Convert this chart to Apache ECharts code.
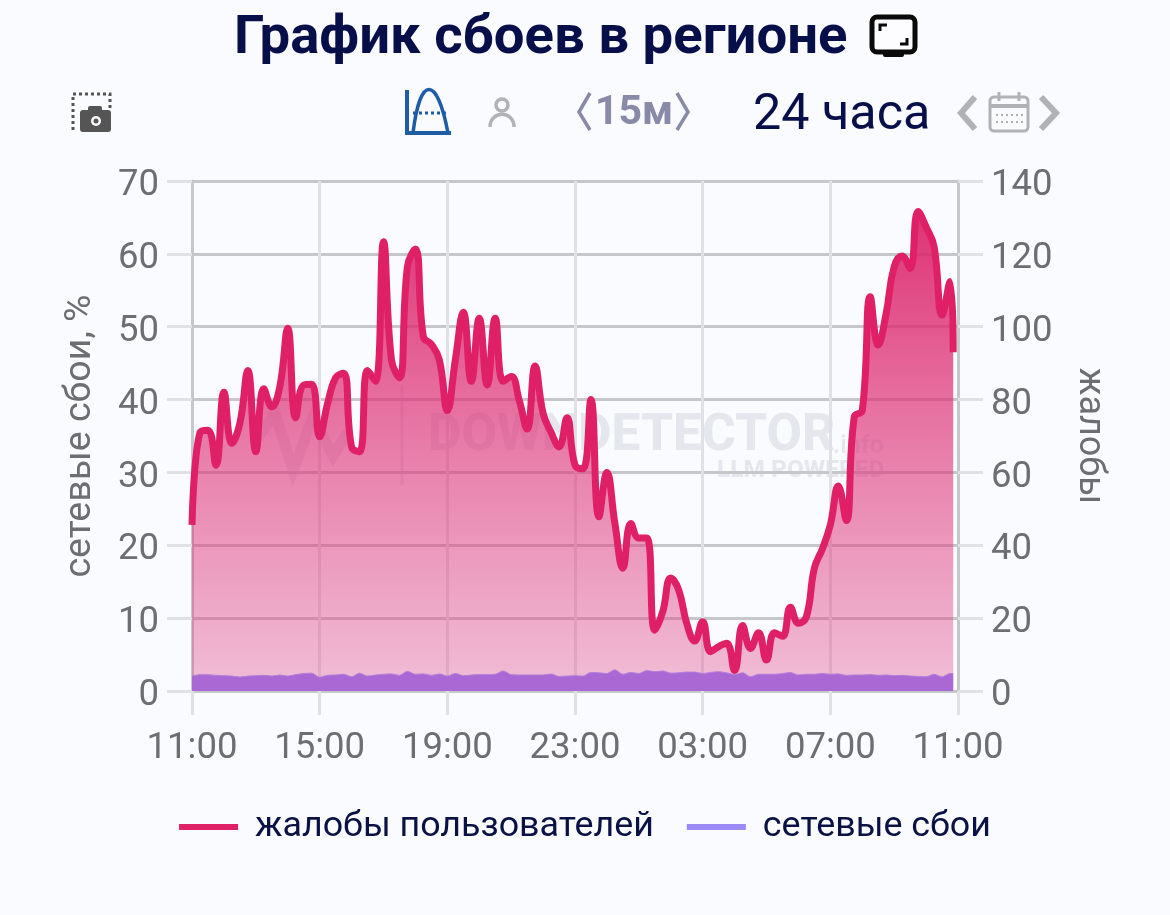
<!DOCTYPE html>
<html><head><meta charset="utf-8">
<style>html,body{margin:0;padding:0;background:#f9fbfe}#c{width:1170px;height:915px}</style>
<script src="https://cdn.jsdelivr.net/npm/echarts@6/dist/echarts.min.js"></script>
</head><body><div id="c"></div>
<script>
const titleText = 'График сбоев в регионе';
const seriesNames = ['жалобы пользователей', 'сетевые сбои'];
const leftAxisName = 'сетевые сбои, %';
const rightAxisName = 'жалобы';
const timeTickLabels = ['11:00','15:00','19:00','23:00','03:00','07:00','11:00'];
// minutes since 11:00 (15-minute samples, last one partial)
const minutes = [0,15,30,45,60,75,90,105,120,135,150,165,180,195,210,225,240,255,270,285,300,315,330,345,360,375,390,405,420,435,450,465,480,495,510,525,540,555,570,585,600,615,630,645,660,675,690,705,720,735,750,765,780,795,810,825,840,855,870,885,900,915,930,945,960,975,990,1005,1020,1035,1050,1065,1080,1095,1110,1125,1140,1155,1170,1185,1200,1215,1230,1245,1260,1275,1290,1305,1320,1335,1350,1365,1380,1395,1410,1425,1431];
const complaints = [45.6,71,71.6,62,82,68,73.5,88,65.7,83,78,83.5,99.6,75,84,84.2,69.8,79,86,87.2,67,65.7,88,85,123.3,90.9,86,116.5,121.3,97.2,95.2,90.9,77,90.9,104,85,102.3,84,102.3,85,86.3,79.9,71.9,89.2,76.2,71,67,75,62,61,80,47.8,60,46,33.7,46,42,42,16.7,21.8,31,27.7,18.6,13.7,19,10.8,12.2,13.1,5.6,18,11.7,16,8.5,16,15,23,18.6,20.4,33.7,39,45.6,56.3,46.8,75.3,77,108.2,95,103.7,116.5,119.4,116,131.6,127.4,122,103.2,112.4,93];
const outages = [2.06,2.24,2.24,2.15,2.1,2.05,1.92,2.05,2.1,2.15,2.05,2.2,2.05,2.25,2.4,2.45,1.9,2.15,2.2,2.3,1.95,2.45,2.05,2.2,2.3,2.35,2.15,2.7,2.3,2.35,2.15,2.35,2.05,2.4,2.1,2.2,2.25,2.25,2.3,2.75,2.25,2.2,2.2,2.2,2.2,2.35,2.0,2.05,2.1,2.05,2.55,2.5,2.4,2.9,2.3,2.55,2.4,2.8,2.65,2.75,2.45,2.5,2.6,2.6,2.4,2.55,2.65,2.5,2.25,2.5,1.95,2.3,2.3,2.3,2.4,2.55,2.2,2.3,2.3,2.4,2.3,2.35,2.15,2.2,2.2,2.25,2.15,2.2,2.1,2.15,2.05,2.0,1.95,2.3,1.95,2.4,2.4];

const toPairs = (ys) => ys.map((y, i) => [minutes[i], y]);
const GREY = '#6c6e70', NAVY = '#070f4a', FONT = 'Roboto, "Liberation Sans", sans-serif';
const MARK = 'rgba(50,60,100,0.1)';
const ICON = '#b0b2b6';

const chart = echarts.init(document.getElementById('c'), null, {renderer:'canvas'});
chart.setOption({
  animation:false,
  backgroundColor:'#f9fbfe',
  textStyle:{fontFamily:FONT},
  title:{text:titleText,left:229,top:7,textStyle:{fontFamily:FONT,fontSize:54.5,fontWeight:700,color:NAVY}},
  grid:{left:192,right:212,top:181,bottom:224},
  legend:{
    bottom:65,left:'center',itemWidth:59,itemHeight:6,itemGap:33,icon:'rect',
    data:seriesNames,
    textStyle:{fontFamily:FONT,fontSize:35.8,color:'#0a1245',padding:[0,0,0,12]}
  },
  xAxis:{
    type:'value',min:0,max:1440,interval:240,
    axisLine:{show:true,lineStyle:{color:'#c5c7cb',width:3}},
    axisTick:{show:true,length:24,lineStyle:{color:'#dfe1e6',width:3}},
    axisLabel:{fontSize:36.5,color:GREY,margin:39,hideOverlap:false,showMinLabel:true,showMaxLabel:true,
      formatter:(v)=>timeTickLabels[Math.round(v/240)]},
    splitLine:{show:true,lineStyle:{color:'#dfe1e6',width:3}}
  },
  yAxis:[{
    type:'value',min:0,max:70,interval:10,position:'left',
    name:leftAxisName,nameLocation:'middle',nameGap:92,nameRotate:90,
    nameTextStyle:{fontFamily:FONT,fontSize:37.5,color:GREY},
    axisLine:{show:true,lineStyle:{color:'#c5c7cb',width:3}},
    axisTick:{show:true,length:25,lineStyle:{color:'#dfe1e6',width:3}},
    axisLabel:{fontSize:36.5,color:GREY,margin:33,verticalAlign:'top',lineHeight:10},
    splitLine:{show:true,lineStyle:{color:'#c5c7cb',width:3}}
  },{
    type:'value',min:0,max:140,interval:20,position:'right',
    name:rightAxisName,nameLocation:'middle',nameGap:113,nameRotate:-90,
    nameTextStyle:{fontFamily:FONT,fontSize:36,color:GREY},
    axisLine:{show:true,lineStyle:{color:'#c5c7cb',width:3}},
    axisTick:{show:true,length:25,lineStyle:{color:'#dfe1e6',width:3}},
    axisLabel:{fontSize:36.5,color:GREY,margin:33,verticalAlign:'top',lineHeight:10},
    splitLine:{show:false}
  }],
  series:[{
    name:seriesNames[0],type:'line',yAxisIndex:1,smooth:0.45,showSymbol:false,z:3,
    data:toPairs(complaints),
    itemStyle:{color:'#df2066'},
    lineStyle:{color:'#df2066',width:7,cap:'butt',join:'round'},
    areaStyle:{opacity:1,color:new echarts.graphic.LinearGradient(0,0,0,1,[
      {offset:0,color:'rgba(219,28,100,0.9)'},
      {offset:1,color:'rgba(225,70,135,0.34)'}])}
  },{
    name:seriesNames[1],type:'line',yAxisIndex:0,smooth:0.3,showSymbol:false,z:4,
    data:toPairs(outages),
    itemStyle:{color:'#9d8bf5'},
    lineStyle:{color:'#b47fdc',width:1},
    areaStyle:{opacity:1,color:'#a968d4'}
  }],
  graphic:{elements:[
    // watermark (below the series)
    {type:'text',z:-1,left:428,top:411,style:{text:'DOWNDETECTOR',font:'800 51.5px '+FONT,fill:MARK}},
    {type:'text',z:-1,left:833,top:434,style:{text:'.info',font:'700 25px '+FONT,fill:MARK}},
    {type:'text',z:-1,left:717,top:458,style:{text:'LLM POWERED',font:'800 24.5px '+FONT,fill:MARK}},
    {type:'polyline',z:-1,shape:{points:[[256,440],[275,413],[293,470],[313,418],[333,456],[348,432]]},style:{stroke:MARK,lineWidth:11,fill:null}},
    {type:'line',z:-1,shape:{x1:402,y1:385,x2:402,y2:485},style:{stroke:MARK,lineWidth:3}},

    // TV icon by the title
    {type:'rect',shape:{x:872,y:17,width:43,height:35,r:5},style:{fill:'#fdfdff',stroke:'#0a0a0a',lineWidth:5}},
    {type:'rect',shape:{x:883,y:50,width:21,height:7,r:2},style:{fill:'#0a0a0a'}},
    {type:'polyline',shape:{points:[[880,31],[880,25],[887,25]]},style:{stroke:'#0a0a0a',lineWidth:3,fill:null}},
    {type:'polyline',shape:{points:[[900,44],[907,44],[907,38]]},style:{stroke:'#0a0a0a',lineWidth:3,fill:null}},

    // screenshot icon
    {type:'polyline',shape:{points:[[73,130],[73,94],[110,94],[110,108]]},style:{stroke:'#555',lineWidth:3,lineDash:[3,3],fill:null}},
    {type:'rect',shape:{x:80,y:110,width:31,height:22,r:3},style:{fill:'#555'}},
    {type:'rect',shape:{x:88,y:106,width:14,height:6,r:2},style:{fill:'#555'}},
    {type:'circle',shape:{cx:96,cy:121,r:5},style:{fill:'#f9fbfe'}},
    {type:'circle',shape:{cx:96,cy:121,r:2.5},style:{fill:'#555'}},

    // peak icon
    {type:'polyline',shape:{points:[[407,90],[407,133],[451,133]]},style:{stroke:'#1f5ca6',lineWidth:4,fill:null}},
    {type:'bezierCurve',shape:{x1:413,y1:133,cpx1:420,cpy1:75,cpx2:437,cpy2:75,x2:448,y2:133},style:{stroke:'#1f5ca6',lineWidth:3.5,fill:null}},
    {type:'line',shape:{x1:413,y1:113,x2:449,y2:113},style:{stroke:'#1f5ca6',lineWidth:3,lineDash:[3,3]}},

    // user icon
    {type:'circle',shape:{cx:502,cy:105,r:6},style:{fill:null,stroke:ICON,lineWidth:3.5}},
    {type:'bezierCurve',shape:{x1:490,y1:127,cpx1:490,cpy1:110,cpx2:514,cpy2:110,x2:514,y2:127},style:{stroke:ICON,lineWidth:3.5,fill:null}},

    // interval control
    {type:'polyline',shape:{points:[[590,93],[579,112],[590,130]]},style:{stroke:'#888aa8',lineWidth:3.5,fill:null}},
    {type:'text',left:595,top:93,style:{text:'15м',font:'700 41px '+FONT,fill:'#888aa8'}},
    {type:'polyline',shape:{points:[[677,93],[688,112],[677,130]]},style:{stroke:'#888aa8',lineWidth:3.5,fill:null}},

    // range
    {type:'text',left:753,top:91,style:{text:'24 часа',font:'400 50.3px '+FONT,fill:NAVY}},
    {type:'polyline',shape:{points:[[975,97],[961,113],[975,129]]},style:{stroke:ICON,lineWidth:6,fill:null}},
    {type:'polyline',shape:{points:[[1041,97],[1056,113],[1041,129]]},style:{stroke:ICON,lineWidth:6,fill:null}},
    {type:'rect',shape:{x:990,y:97,width:38,height:34,r:4},style:{fill:null,stroke:ICON,lineWidth:3}},
    {type:'line',shape:{x1:990,y1:106,x2:1028,y2:106},style:{stroke:ICON,lineWidth:4}},
    {type:'line',shape:{x1:999,y1:92,x2:999,y2:101},style:{stroke:ICON,lineWidth:3}},
    {type:'line',shape:{x1:1019,y1:92,x2:1019,y2:101},style:{stroke:ICON,lineWidth:3}},
    {type:'line',shape:{x1:996,y1:115,x2:1024,y2:115},style:{stroke:ICON,lineWidth:2,lineDash:[2,3]}},
    {type:'line',shape:{x1:996,y1:122,x2:1024,y2:122},style:{stroke:ICON,lineWidth:2,lineDash:[2,3]}}
  ]}
});
</script></body></html>
